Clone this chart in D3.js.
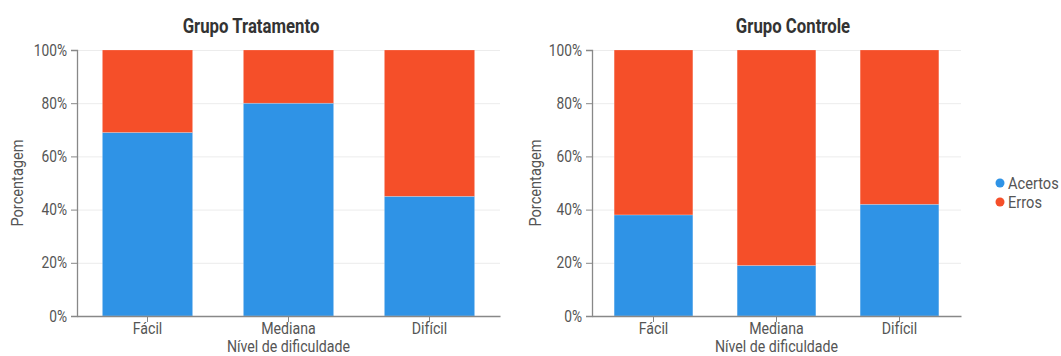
<!DOCTYPE html>
<html>
<head>
<meta charset="utf-8">
<script src="https://cdn.jsdelivr.net/npm/d3@7"></script>
<style>
  html, body { margin: 0; padding: 0; background: #fff; }
  svg { display: block; font-family: Roboto, "Noto Sans", sans-serif; }
</style>
</head>
<body>
<svg id="chart" width="1061" height="356"></svg>
<script>
// Difficulty levels and percentage of correct answers per group
const categories = ["Fácil", "Mediana", "Difícil"];
const acertosTratamento = [69, 80, 45];
const acertosControle = [38, 19, 42];
const yTicks = [0, 20, 40, 60, 80, 100];
const seriesNames = ["Acertos", "Erros"];
const colors = { Acertos: "#2f93e6", Erros: "#f54f29" };

// horizontal squeeze to give the labels a condensed look
const SX = 0.86;

const svg = d3.select("#chart");

function condensedText(parent, cx, cy, str, size, opts = {}) {
  const t = parent.append("text")
    .attr("transform", `translate(${cx},${cy})${opts.rotate ? " rotate(-90)" : ""} scale(${SX},1)`)
    .attr("text-anchor", opts.anchor || "middle")
    .attr("fill", opts.fill || "#555")
    .attr("font-size", size)
    .text(str);
  if (opts.bold) t.attr("font-weight", "bold");
  return t;
}

function drawPanel(cfg) {
  const g = svg.append("g");
  const x = d3.scaleBand().domain(categories).range([cfg.x0, cfg.x1])
    .paddingInner(0.36).paddingOuter(0.18);
  const y = d3.scaleLinear().domain([0, 100]).range([cfg.yBottom, cfg.yTop]);

  // grid lines
  g.append("g").selectAll("line").data(yTicks.filter(d => d > 0)).join("line")
    .attr("x1", cfg.x0).attr("x2", cfg.x1)
    .attr("y1", d => y(d) + 0.5).attr("y2", d => y(d) + 0.5)
    .attr("stroke", "#ececec").attr("stroke-width", 1);

  // stacked bars: correct answers at the bottom, errors on top
  const rows = categories.map((c, i) => ({ cat: c, Acertos: cfg.acertos[i], Erros: 100 - cfg.acertos[i] }));
  const stack = d3.stack().keys(seriesNames)(rows);
  g.append("g").selectAll("g").data(stack).join("g")
    .attr("fill", d => colors[d.key])
    .selectAll("rect").data(d => d).join("rect")
    .attr("x", d => x(d.data.cat))
    .attr("width", x.bandwidth())
    .attr("y", d => y(d[1]))
    .attr("height", d => y(d[0]) - y(d[1]))
    .attr("stroke", "#ffffff").attr("stroke-opacity", 0.35).attr("stroke-width", 0.6);

  // y axis
  const ya = g.append("g").attr("transform", `translate(${cfg.x0},0)`)
    .call(d3.axisLeft(y).tickValues(yTicks).tickFormat(d => d + "%").tickSize(6).tickPadding(4));
  ya.select(".domain").attr("stroke", "#888").attr("stroke-width", 1.3);
  ya.selectAll(".tick line").attr("stroke", "#888");
  ya.selectAll("text").attr("fill", "#555").attr("font-size", 16).attr("font-family", "Roboto")
    .attr("x", -10 / SX).attr("transform", `scale(${SX},1)`);

  // x axis
  const xa = g.append("g").attr("transform", `translate(0,${cfg.yBottom})`)
    .call(d3.axisBottom(x).tickSize(6).tickSizeOuter(0).tickPadding(3));
  xa.select(".domain").attr("stroke", "#888").attr("stroke-width", 1.3);
  xa.selectAll(".tick line").attr("stroke", "#888");
  xa.selectAll("text").attr("fill", "#555").attr("font-size", 16.5).attr("font-family", "Roboto")
    .attr("y", 6.5).attr("transform", `scale(${SX},1)`);

  // axis titles
  condensedText(g, (cfg.x0 + cfg.x1) / 2, 352, "Nível de dificuldade", 16.5);
  condensedText(g, cfg.yLabelX, (cfg.yTop + cfg.yBottom) / 2, "Porcentagem", 17, { rotate: true });

  // panel title
  condensedText(g, cfg.titleX, 33, cfg.title, 19.5, { bold: true, fill: "#333" });
}

drawPanel({ title: "Grupo Tratamento", acertos: acertosTratamento,
  x0: 77, x1: 500, yTop: 50, yBottom: 316, yLabelX: 23, titleX: 251 });
drawPanel({ title: "Grupo Controle", acertos: acertosControle,
  x0: 592, x1: 961, yTop: 50, yBottom: 316, yLabelX: 541, titleX: 793 });

// legend
const legend = svg.append("g").attr("transform", "translate(1000,183)");
const li = legend.selectAll("g").data(seriesNames).join("g")
  .attr("transform", (d, i) => `translate(0,${i * 19})`);
li.append("circle").attr("r", 4.5).attr("fill", d => colors[d]);
li.each(function (d) { condensedText(d3.select(this), 8, 6, d, 17, { anchor: "start" }); });
</script>
</body>
</html>
